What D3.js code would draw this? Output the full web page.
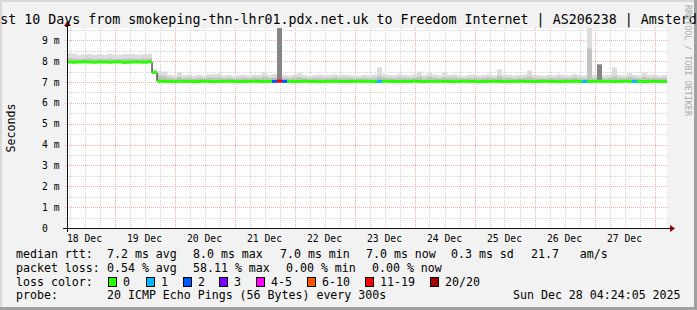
<!DOCTYPE html>
<html lang="en">
<head>
<meta charset="UTF-8">
<script src="https://d3js.org/d3.v7.min.js"></script>
<style>
    body { margin: 0; background: #f2f2f2; }
    svg { display: block; }
    text { font-family: "DejaVu Sans Mono", monospace; white-space: pre; fill: #000; }
    .axis-lbl { font-size: 9.7px; }
    .legend { font-size: 11.6px; }
</style>
</head>
<body>
<div id="chart"></div>
<script>
// ---- data (ms), one entry per 2 hour bucket starting 18 Dec 05:00 ----
const rttMedian = [
    7.96, 7.95, 7.96, 7.97, 7.96, 7.95, 7.96, 7.96, 7.95, 7.96, 7.97, 7.94, 7.95, 7.96, 7.96, 7.95, 7.97,
    7.45,
    7.04, 7.03, 7.03, 7.02, 7.04, 7.03, 7.03, 7.02, 7.03, 7.04, 7.03, 7.02, 7.03, 7.03, 7.04, 7.03,
    7.02, 7.03, 7.03, 7.04, 7.03, 7.02, 7.03, 7.03, 7.04, 7.03, 7.03, 7.02, 7.03, 7.04, 7.03, 7.03,
    7.02, 7.03, 7.03, 7.04, 7.03, 7.02, 7.03, 7.03, 7.04, 7.03, 7.03, 7.02, 7.03, 7.04, 7.03, 7.03,
    7.02, 7.03, 7.03, 7.04, 7.03, 7.02, 7.03, 7.03, 7.04, 7.03, 7.03, 7.02, 7.03, 7.04, 7.03, 7.03,
    7.02, 7.03, 7.03, 7.04, 7.03, 7.02, 7.03, 7.03, 7.04, 7.03, 7.03, 7.02, 7.03, 7.04, 7.03, 7.03,
    7.02, 7.03, 7.03, 7.04, 7.03, 7.02, 7.03, 7.03, 7.04, 7.03, 7.03, 7.02, 7.03, 7.04, 7.03, 7.03,
    7.03, 7.02, 7.03, 7.03, 7.03, 7.02
];
// top of light smoke (max ping)
const rttHigh = [
    8.38, 8.36, 8.30, 8.33, 8.35, 8.31, 8.34, 8.30, 8.36, 8.32, 8.30, 8.34, 8.35, 8.33, 8.31, 8.34, 8.35,
    7.62,
    7.52, 7.50, 7.34, 7.32, 7.48, 7.33, 7.36, 7.30, 7.35, 7.30, 7.38, 7.37, 7.40, 7.32, 7.34, 7.30,
    7.33, 7.35, 7.31, 7.36, 7.34, 7.45, 7.34, 7.38, 12.0, 7.34, 7.32, 7.36, 7.42, 7.34, 7.30, 7.34,
    7.36, 7.32, 7.34, 7.37, 7.33, 7.35, 7.34, 7.31, 7.30, 7.34, 7.32, 7.36, 7.70, 7.38, 7.34, 7.32,
    7.38, 7.34, 7.32, 7.36, 7.50, 7.34, 7.42, 7.36, 7.32, 7.46, 7.34, 7.37, 7.32, 7.30, 7.34, 7.36,
    7.32, 7.34, 7.37, 7.32, 7.60, 7.36, 7.34, 7.31, 7.34, 7.36, 7.55, 7.34, 7.32, 7.30, 7.34, 7.32,
    7.36, 7.34, 7.32, 7.38, 7.34, 7.32, 12.0, 7.34, 7.37, 7.32, 7.34, 7.70, 7.34, 7.32, 7.42, 7.34,
    7.32, 7.46, 7.34, 7.36, 7.32, 7.34
];
// top of medium smoke
const rttMid = [
    8.14, 8.12, 8.10, 8.12, 8.14, 8.10, 8.12, 8.10, 8.13, 8.11, 8.10, 8.12, 8.13, 8.11, 8.10, 8.12, 8.14,
    7.52,
    7.32, 7.28, 7.20, 7.18, 7.24, 7.18, 7.21, 7.17, 7.20, 7.17, 7.22, 7.21, 7.22, 7.18, 7.20, 7.17,
    7.18, 7.20, 7.17, 7.21, 7.20, 7.26, 7.20, 7.22, 12.0, 7.20, 7.18, 7.21, 7.24, 7.20, 7.17, 7.20,
    7.21, 7.18, 7.20, 7.22, 7.18, 7.21, 7.20, 7.17, 7.17, 7.20, 7.18, 7.21, 7.28, 7.22, 7.20, 7.18,
    7.22, 7.20, 7.18, 7.21, 7.26, 7.20, 7.26, 7.21, 7.18, 7.24, 7.20, 7.22, 7.18, 7.17, 7.20, 7.21,
    7.18, 7.20, 7.22, 7.18, 7.28, 7.21, 7.20, 7.17, 7.20, 7.21, 7.26, 7.20, 7.18, 7.17, 7.20, 7.18,
    7.21, 7.20, 7.18, 7.22, 7.20, 7.18, 8.60, 7.20, 7.22, 7.18, 7.20, 7.28, 7.20, 7.18, 7.24, 7.20,
    7.18, 7.24, 7.20, 7.21, 7.18, 7.20
];
// dark smoke tops (only where many pings were slow)
const darkBuckets = [42, 106];
const darkTops = [12.0, 7.85];
// lost pings out of 20 per bucket (0 elsewhere)
const lossBuckets = [41, 42, 43, 62, 103, 113];
const lossCounts = [2, 12, 2, 1, 1, 1];

const yTicks = [0, 1, 2, 3, 4, 5, 6, 7, 8, 9];
const lossLabels = ["0", "1", "2", "3", "4-5", "6-10", "11-19", "20/20"];
const lossUpper = [0, 1, 2, 3, 5, 10, 19, 20];
const lossColors = ["#26ff00", "#00b8ff", "#0059ff", "#7e00ff", "#ff00ff", "#ff5500", "#ff0000", "#a00000"];
const rttStats = ["7.2 ms avg", "8.0 ms max", "7.0 ms min", "7.0 ms now", "0.3 ms sd", "21.7   am/s"];
const lossStats = ["0.54 % avg", "58.11 % max", "0.00 % min", "0.00 % now"];
const probeText = "20 ICMP Echo Pings (56 Bytes) every 300s";
const stamp = "Sun Dec 28 04:24:05 2025";
const title = "Last 10 Days from smokeping-thn-lhr01.pdx.net.uk to Freedom Internet | AS206238 | Amsterdam";

const W = 697, H = 310;
const plot = {left: 67, right: 667, top: 28, bottom: 228};
const start = new Date(2025, 11, 18, 5, 0);
const end = new Date(2025, 11, 28, 5, 0);
const bucketMs = 2 * 3600 * 1000;

const svg = d3.select("#chart").append("svg").attr("width", W).attr("height", H);

// frame
svg.append("rect").attr("width", W).attr("height", H).attr("fill", "#f2f2f2");
svg.append("rect").attr("width", W).attr("height", 2).attr("fill", "#d8d8d8");
svg.append("rect").attr("width", 2).attr("height", H).attr("fill", "#d8d8d8");
svg.append("rect").attr("y", H - 3).attr("width", W).attr("height", 3).attr("fill", "#a0a0a0");
svg.append("rect").attr("x", W - 3).attr("width", 3).attr("height", H).attr("fill", "#a0a0a0");

const x = d3.scaleTime().domain([start, end]).range([plot.left, plot.right]);
const y = d3.scaleLinear().domain([0, 9.59]).range([plot.bottom, plot.top]);

svg.append("rect")
    .attr("x", plot.left).attr("y", plot.top)
    .attr("width", plot.right - plot.left).attr("height", plot.bottom - plot.top)
    .attr("fill", "#fff");

svg.append("clipPath").attr("id", "clip").append("rect")
    .attr("x", plot.left).attr("y", plot.top)
    .attr("width", plot.right - plot.left).attr("height", plot.bottom - plot.top);

// grid
const grid = svg.append("g");
d3.range(0, 9.6, 0.5).forEach(v => {
    const major = v % 1 === 0;
    grid.append("line")
        .attr("x1", plot.left - 2).attr("x2", plot.right + 2)
        .attr("y1", Math.round(y(v)) + 0.5).attr("y2", Math.round(y(v)) + 0.5)
        .attr("stroke", major ? "#ffaaaa" : "#d4d4d4")
        .attr("stroke-dasharray", "1,1");
});
d3.timeHour.every(6).range(start, end).forEach(t => {
    const major = t.getHours() === 0;
    grid.append("line")
        .attr("x1", Math.round(x(t)) + 0.5).attr("x2", Math.round(x(t)) + 0.5)
        .attr("y1", plot.top).attr("y2", plot.bottom + 2)
        .attr("stroke", major ? "#ffaaaa" : "#d4d4d4")
        .attr("stroke-dasharray", "1,1");
});

// smoke
const buckets = rttMedian.map((m, i) => ({
    t0: new Date(+start + i * bucketMs),
    t1: new Date(+start + (i + 1) * bucketMs),
    median: m, high: rttHigh[i], mid: rttMid[i],
    dark: darkBuckets.includes(i) ? darkTops[darkBuckets.indexOf(i)] : null,
    loss: lossBuckets.includes(i) ? lossCounts[lossBuckets.indexOf(i)] : 0
}));

const data = svg.append("g").attr("clip-path", "url(#clip)");

function smoke(key, color, low) {
    data.selectAll(null)
        .data(buckets.filter(d => d[key] != null))
        .enter().append("rect")
        .attr("x", d => x(d.t0))
        .attr("width", d => x(d.t1) - x(d.t0))
        .attr("y", d => y(d[key]))
        .attr("height", d => y(d.median - low) - y(d[key]))
        .attr("fill", color);
}
smoke("high", "#dcdcdc", 0.06);
smoke("mid", "#c2c2c2", 0.04);
smoke("dark", "#858585", 0);

// median: thin black steps, then loss coloured segments
const stepLine = d3.line()
    .x(d => x(d.t))
    .y(d => y(d.v))
    .curve(d3.curveStepAfter);
const stepPts = buckets.map(d => ({t: d.t0, v: d.median}))
    .concat([{t: end, v: rttMedian[rttMedian.length - 1]}]);
data.append("path")
    .datum(stepPts)
    .attr("d", stepLine)
    .attr("fill", "none")
    .attr("stroke", "#000")
    .attr("stroke-width", 1);

function lossColor(n) {
    return lossColors[lossUpper.findIndex(u => n <= u)];
}
data.selectAll(null)
    .data(buckets)
    .enter().append("line")
    .attr("x1", d => x(d.t0)).attr("x2", d => x(d.t1))
    .attr("y1", d => y(d.median)).attr("y2", d => y(d.median))
    .attr("stroke", d => lossColor(d.loss))
    .attr("stroke-width", 3);

// axes
const axisCol = "#101010";
svg.append("line")
    .attr("x1", plot.left - 4).attr("x2", plot.right + 4)
    .attr("y1", plot.bottom + 0.5).attr("y2", plot.bottom + 0.5)
    .attr("stroke", axisCol);
svg.append("line")
    .attr("x1", plot.left + 0.5).attr("x2", plot.left + 0.5)
    .attr("y1", plot.bottom + 4).attr("y2", plot.top - 3)
    .attr("stroke", axisCol);
svg.append("path")
    .attr("d", `M${plot.right + 3},${plot.bottom - 3} L${plot.right + 8},${plot.bottom + 0.5} L${plot.right + 3},${plot.bottom + 4} Z`)
    .attr("fill", "#8b0000");
svg.append("path")
    .attr("d", `M${plot.left - 3},${plot.top - 2} L${plot.left + 0.5},${plot.top - 7} L${plot.left + 4},${plot.top - 2} Z`)
    .attr("fill", "#8b0000");

svg.selectAll(null)
    .data(yTicks)
    .enter().append("text")
    .attr("class", "axis-lbl")
    .attr("x", 42)
    .attr("y", d => y(d) + 3.5)
    .text(d => d === 0 ? "0" : d + " m");

// one label per day, centred at noon
const dayStarts = d3.timeDay.range(d3.timeDay.floor(start), d3.timeDay.floor(end));
svg.selectAll(null)
    .data(dayStarts)
    .enter().append("text")
    .attr("class", "axis-lbl")
    .attr("x", d => x(d3.timeHour.offset(d, 12)))
    .attr("y", 242)
    .attr("text-anchor", "middle")
    .text(d => d3.timeFormat("%d %b")(d));

// title and side texts
svg.append("text")
    .attr("x", W / 2).attr("y", 24)
    .attr("text-anchor", "middle")
    .style("font-size", "13.3px")
    .text(title);

svg.append("text")
    .attr("transform", `translate(15,${(plot.top + plot.bottom) / 2}) rotate(-90)`)
    .attr("text-anchor", "middle")
    .style("font-size", "11.6px")
    .text("Seconds");

svg.append("text")
    .attr("transform", "translate(684.5,5) rotate(90)")
    .style("font-size", "8.4px")
    .style("fill", "#aaaaaa")
    .text("RRDTOOL / TOBI OETIKER");

// legend
const leg = svg.append("g").attr("class", "legend");
const rttX = [107, 193, 280, 366, 451, 531];
const lossX = [107, 193, 286, 372];
const swatchX = [108, 146, 183, 219, 256, 307, 365, 430];

leg.append("text").attr("x", 16).attr("y", 258).text("median rtt:");
rttStats.forEach((s, i) => leg.append("text").attr("x", rttX[i]).attr("y", 258).text(s));
leg.append("text").attr("x", 16).attr("y", 272).text("packet loss:");
lossStats.forEach((s, i) => leg.append("text").attr("x", lossX[i]).attr("y", 272).text(s));
leg.append("text").attr("x", 16).attr("y", 285.5).text("loss color:");
lossLabels.forEach((s, i) => {
    leg.append("rect")
        .attr("x", swatchX[i] + 0.5).attr("y", 277.5)
        .attr("width", 8).attr("height", 9)
        .attr("fill", lossColors[i])
        .attr("stroke", "#000");
    leg.append("text").attr("x", swatchX[i] + 15).attr("y", 285.5).text(s);
});
leg.append("text").attr("x", 16).attr("y", 299).text("probe:");
leg.append("text").attr("x", 107).attr("y", 299).text(probeText);
leg.append("text").attr("x", 513).attr("y", 299).text(stamp);
</script>
</body>
</html>
